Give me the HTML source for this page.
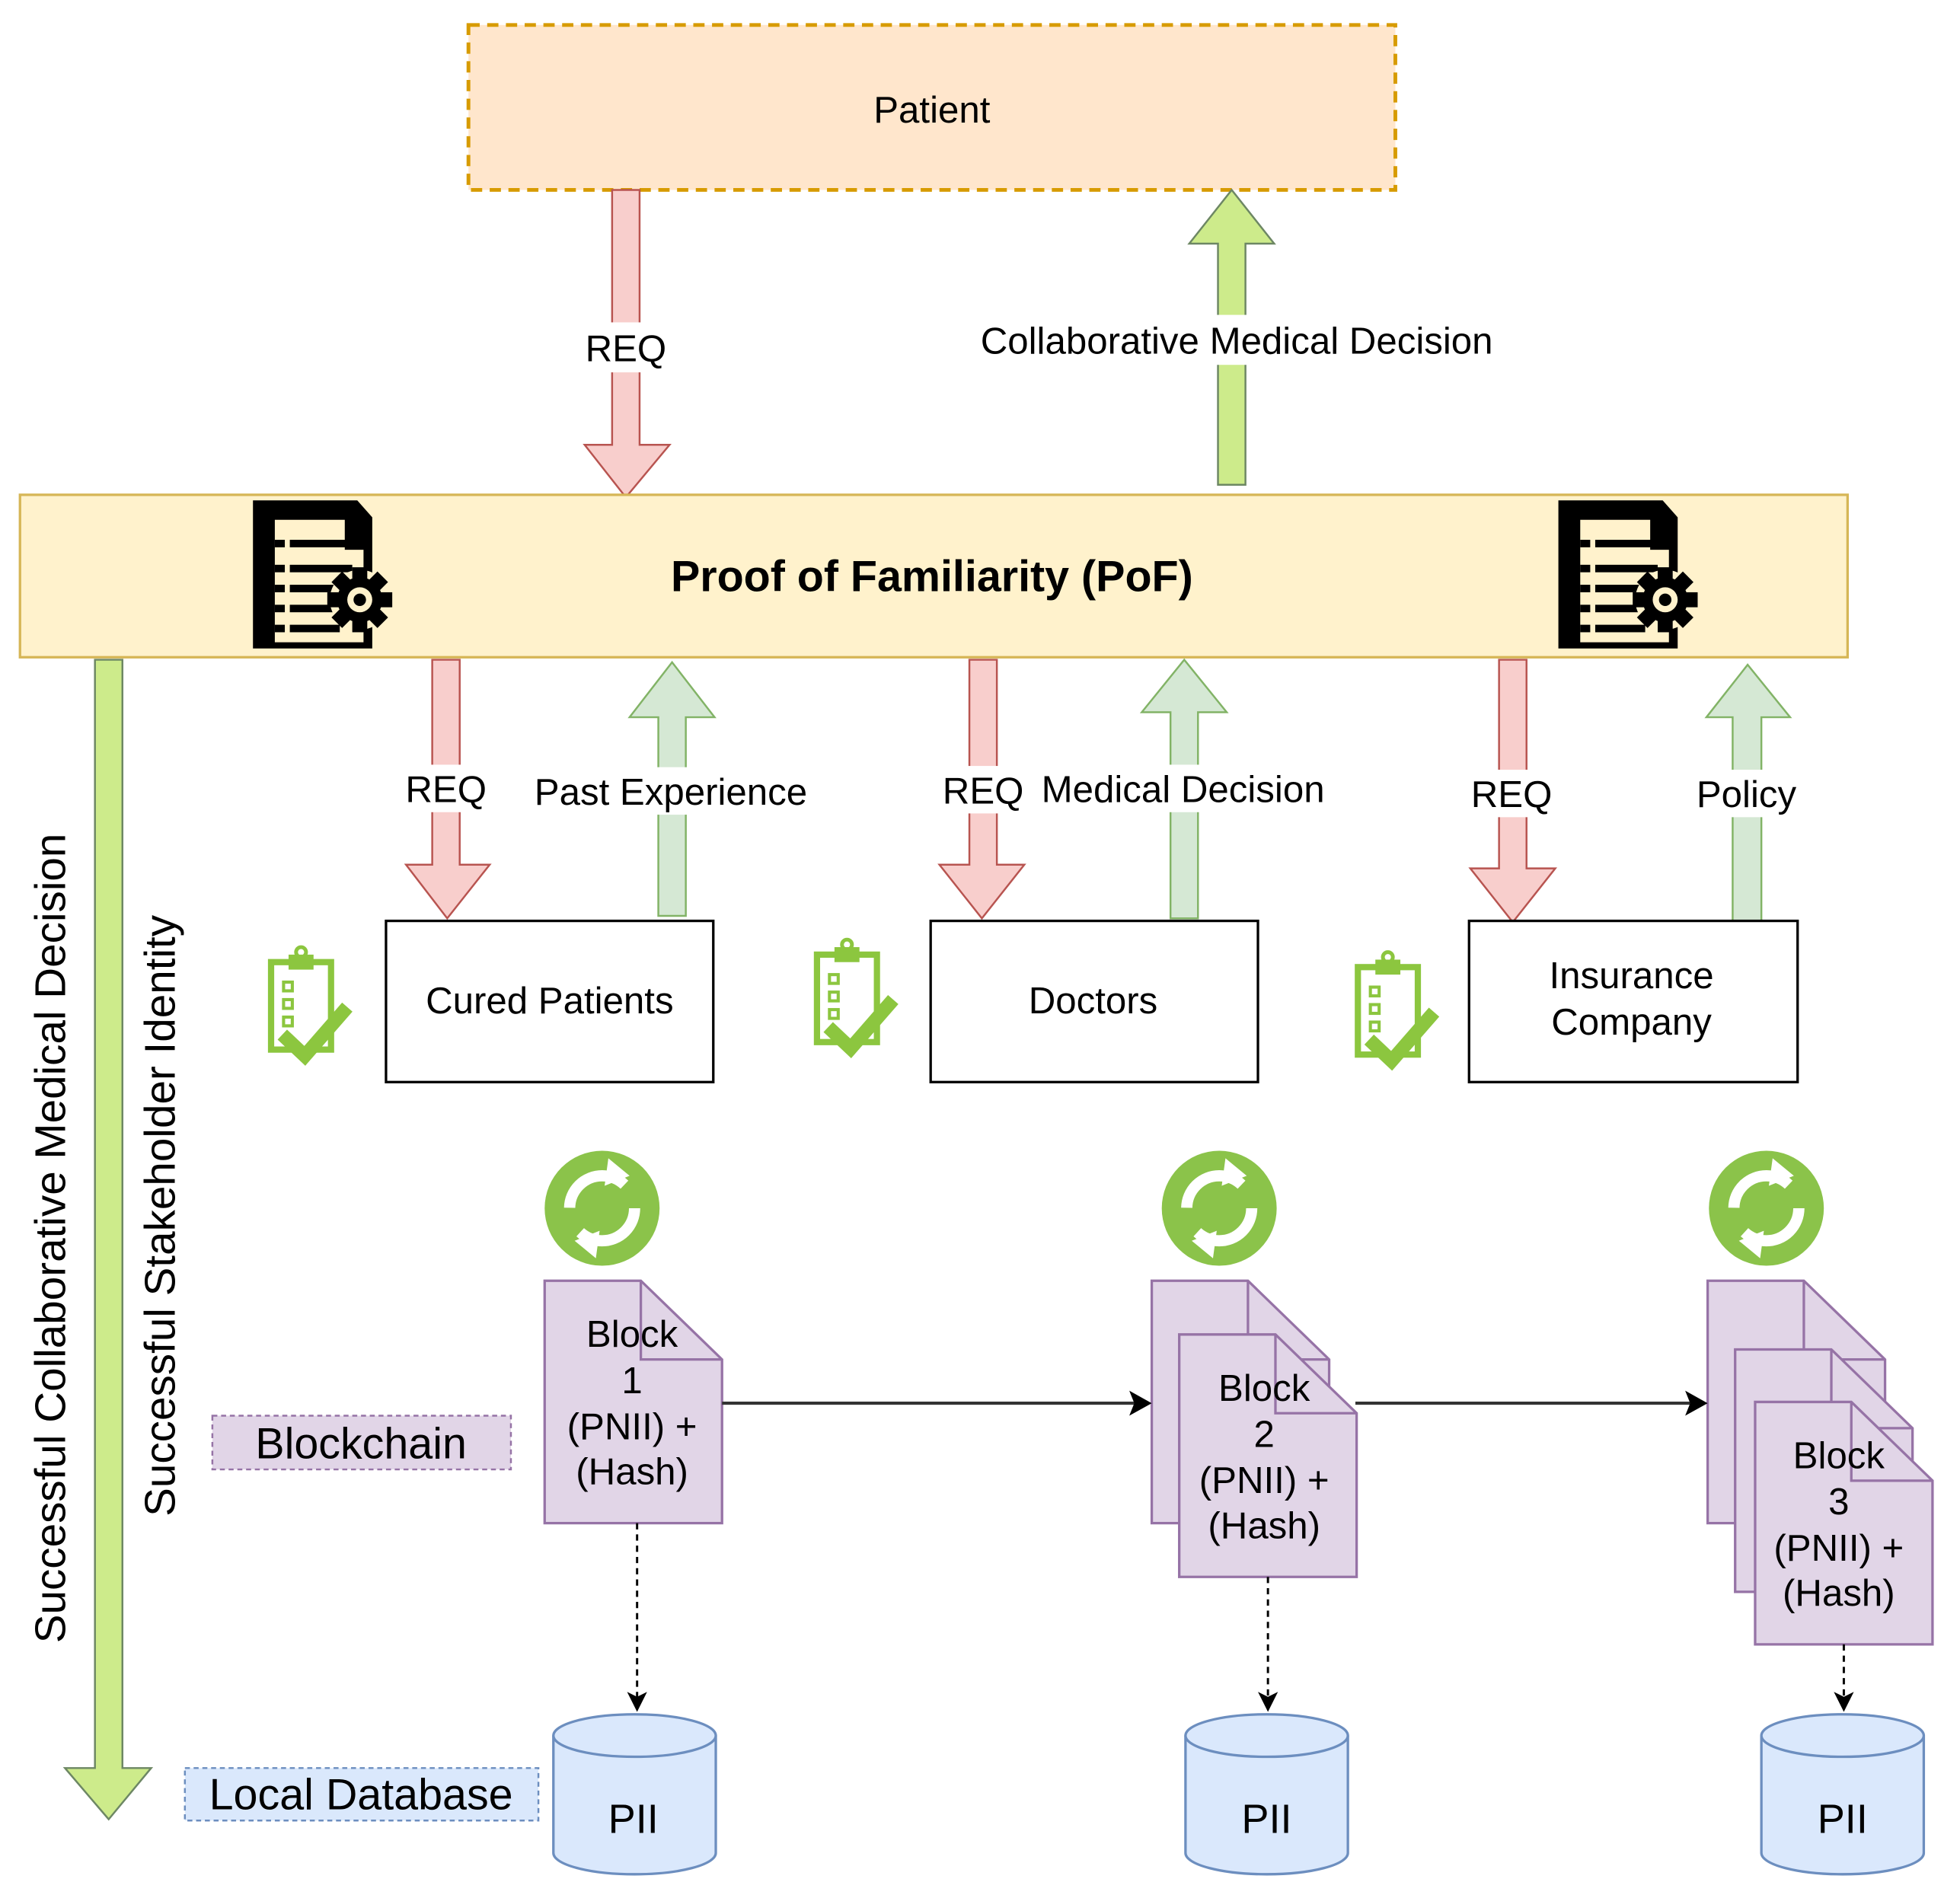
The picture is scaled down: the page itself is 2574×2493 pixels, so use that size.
<!DOCTYPE html>
<html><head><meta charset="utf-8"><style>html,body{margin:0;padding:0;background:#fff}svg{display:block}text{font-family:"Liberation Sans",Arial,sans-serif}</style></head><body>
<svg width="2574" height="2493" viewBox="0 0 1569 1519" preserveAspectRatio="none" xmlns="http://www.w3.org/2000/svg">
<defs>
<g id="doc">
<path d="M4.5,4.5 H88 L100,18 V123 H4.5 Z" fill="#000"/>
<path d="M22,20 H78 V44 H93 V118 H22 Z" fill="#fff2cc"/>
<g fill="#000"><rect x="22" y="36" width="8" height="6"/><rect x="34" y="36" width="50" height="6"/>
<rect x="22" y="56" width="8" height="6"/><rect x="34" y="56" width="50" height="6"/>
<rect x="22" y="72" width="8" height="6"/><rect x="34" y="72" width="40" height="6"/>
<rect x="22" y="88" width="8" height="6"/><rect x="34" y="88" width="35" height="6"/>
<rect x="22" y="104" width="8" height="6"/><rect x="34" y="104" width="40" height="6"/></g>
<circle cx="90" cy="84" r="24" fill="#fff2cc"/>
<g transform="translate(90,84)" fill="#000">
<circle r="18"/>
<g><rect x="-6" y="-26" width="12" height="52"/><rect x="-26" y="-6" width="52" height="12"/>
<rect x="-6" y="-26" width="12" height="52" transform="rotate(45)"/><rect x="-6" y="-26" width="12" height="52" transform="rotate(-45)"/></g>
<circle r="10" fill="#fff2cc"/><circle r="5"/></g>
</g>
<g id="clip">
<rect x="3" y="12" width="48" height="70" fill="none" stroke="#8cc63f" stroke-width="5"/>
<rect x="17" y="6" width="20" height="12" fill="#8cc63f"/><circle cx="27" cy="4" r="4" fill="none" stroke="#8cc63f" stroke-width="3"/>
<g fill="none" stroke="#8cc63f" stroke-width="2.5"><rect x="13" y="28" width="7" height="7"/><rect x="13" y="42" width="7" height="7"/><rect x="13" y="56" width="7" height="7"/></g>
<path d="M12,70 L30,87 L64,48" fill="none" stroke="#8cc63f" stroke-width="11"/>
</g>
<g id="sync">
<circle r="46" fill="#8bc34a"/>
<circle r="26" fill="none" stroke="#fff" stroke-width="9" stroke-dasharray="60 22"/>
<path d="M5,-40 L22,-26 L2,-18 Z" fill="#fff"/><path d="M-5,40 L-22,26 L-2,18 Z" fill="#fff"/>
</g>
<g id="note"><path d="M0,0 H77 L142,63 V194 H0 Z" fill="#e1d5e7" stroke="#9673a6" stroke-width="2"/><path d="M77,0 V63 H142" fill="none" stroke="#9673a6" stroke-width="2"/></g>
<g id="cyl"><path d="M0,17 V111 A65,17 0 0 0 130,111 V17" fill="#dae8fc" stroke="#6c8ebf" stroke-width="2"/><ellipse cx="65" cy="17" rx="65" ry="17" fill="#dae8fc" stroke="#6c8ebf" stroke-width="2"/></g>
</defs>

<rect x="375" y="20" width="742" height="132" fill="#ffe6cc" stroke="#d79b00" stroke-width="3" stroke-dasharray="9 6"/>
<text x="746" y="98" font-size="30" text-anchor="middle">Patient</text>

<path d="M490,152 H512 V356 H536 L501,398 L468,356 H490 Z" fill="#f8cecc" stroke="#b85450" stroke-width="1.5"/>
<rect x="462" y="258" width="78" height="40" fill="#fff"/>
<text x="501" y="289" font-size="30" text-anchor="middle">REQ</text>
<path d="M975,388 V195 H952 L986,152 L1020,195 H997 V388 Z" fill="#cdeb8b" stroke="#6d8764" stroke-width="1.5"/>
<rect x="778" y="252" width="424" height="40" fill="#fff"/>
<text x="990" y="283" font-size="30" text-anchor="middle">Collaborative Medical Decision</text>

<rect x="16" y="396" width="1463" height="130" fill="#fff2cc" stroke="#d6b656" stroke-width="2"/>
<use href="#doc" x="198" y="396"/>
<use href="#doc" x="1243" y="396"/>
<text x="746" y="473" font-size="35" font-weight="bold" text-anchor="middle">Proof of Familiarity (PoF)</text>

<path d="M76,528 H98 V1415 H121 L87,1456 L52,1415 H76 Z" fill="#cdeb8b" stroke="#6d8764" stroke-width="1.5"/>
<text transform="translate(52,991) rotate(-90)" font-size="34.5" text-anchor="middle">Successful Collaborative Medical Decision</text>
<text transform="translate(140,973) rotate(-90)" font-size="34.5" text-anchor="middle">Successful Stakeholder Identity</text>

<g fill="#f8cecc" stroke="#b85450" stroke-width="1.5">
<path d="M346,528 H368 V692 H392 L358,735 L325,692 H346 Z"/>
<path d="M776,528 H798 V692 H820 L786,735 L752,692 H776 Z"/>
<path d="M1200,528 H1222 V695 H1245 L1211,738 L1177,695 H1200 Z"/>
</g>
<g fill="#d5e8d4" stroke="#82b366" stroke-width="1.5">
<path d="M527,733 V574 H504 L538,530 L572,574 H549 V733 Z"/>
<path d="M937,735 V570 H914 L948,528 L982,570 H959 V735 Z"/>
<path d="M1387,738 V574 H1366 L1399,532 L1433,574 H1410 V738 Z"/>
</g>
<g fill="#fff"><rect x="318" y="612" width="76" height="38"/><rect x="422" y="614" width="230" height="38"/><rect x="748" y="613" width="76" height="38"/><rect x="828" y="612" width="238" height="38"/><rect x="1171" y="616" width="78" height="38"/><rect x="1353" y="616" width="90" height="38"/></g>
<g font-size="30" text-anchor="middle">
<text x="357" y="642">REQ</text><text x="537" y="644">Past Experience</text>
<text x="787" y="643">REQ</text><text x="947" y="642">Medical Decision</text>
<text x="1210" y="646">REQ</text><text x="1398" y="646">Policy</text>
</g>

<g fill="#fff" stroke="#000" stroke-width="2"><rect x="309" y="737" width="262" height="129"/><rect x="745" y="737" width="262" height="129"/><rect x="1176" y="737" width="263" height="129"/></g>
<g font-size="30" text-anchor="middle"><text x="440" y="811">Cured Patients</text><text x="875" y="811">Doctors</text><text x="1306" y="791">Insurance</text><text x="1306" y="828">Company</text></g>
<use href="#clip" x="214" y="758"/><use href="#clip" x="651" y="752"/><use href="#clip" x="1084" y="762"/>

<use href="#sync" x="482" y="967"/><use href="#sync" x="976" y="967"/><use href="#sync" x="1414" y="967"/>

<use href="#note" x="436" y="1025"/>
<use href="#note" x="922" y="1025"/><use href="#note" x="944" y="1068"/>
<use href="#note" x="1367" y="1025"/><use href="#note" x="1389" y="1080"/><use href="#note" x="1405" y="1122"/>
<g font-size="30" text-anchor="middle">
<text x="506" y="1078">Block</text><text x="506" y="1115">1</text><text x="506" y="1152">(PNII) +</text><text x="506" y="1188">(Hash)</text>
<text x="1012" y="1121">Block</text><text x="1012" y="1158">2</text><text x="1012" y="1195">(PNII) +</text><text x="1012" y="1231">(Hash)</text>
<text x="1472" y="1175">Block</text><text x="1472" y="1212">3</text><text x="1472" y="1249">(PNII) +</text><text x="1472" y="1285">(Hash)</text>
</g>
<g stroke="#333" stroke-width="2.5"><line x1="578" y1="1123" x2="910" y2="1123"/><line x1="1085" y1="1123" x2="1355" y2="1123"/></g>
<path d="M922,1123 L904,1113 L908,1123 L904,1133 Z"/><path d="M1367,1123 L1349,1113 L1353,1123 L1349,1133 Z"/>
<g stroke="#000" stroke-width="1.8" stroke-dasharray="5 4"><line x1="510" y1="1219" x2="510" y2="1360"/><line x1="1015" y1="1262" x2="1015" y2="1360"/><line x1="1476" y1="1316" x2="1476" y2="1360"/></g>
<path d="M510,1370 L502,1354 L510,1358 L518,1354 Z"/><path d="M1015,1370 L1007,1354 L1015,1358 L1023,1354 Z"/><path d="M1476,1370 L1468,1354 L1476,1358 L1484,1354 Z"/>

<use href="#cyl" x="443" y="1372"/><use href="#cyl" x="949" y="1372"/><use href="#cyl" x="1410" y="1372"/>
<g font-size="33" text-anchor="middle"><text x="507" y="1467">PII</text><text x="1014" y="1467">PII</text><text x="1475" y="1467">PII</text></g>

<rect x="170" y="1133" width="239" height="43" fill="#e1d5e7" stroke="#9673a6" stroke-width="1.5" stroke-dasharray="4 3"/>
<text x="289" y="1167" font-size="35" text-anchor="middle">Blockchain</text>
<rect x="148" y="1415" width="283" height="42" fill="#dae8fc" stroke="#6c8ebf" stroke-width="1.5" stroke-dasharray="4 3"/>
<text x="289" y="1448" font-size="35" text-anchor="middle">Local Database</text>
</svg>
</body></html>
